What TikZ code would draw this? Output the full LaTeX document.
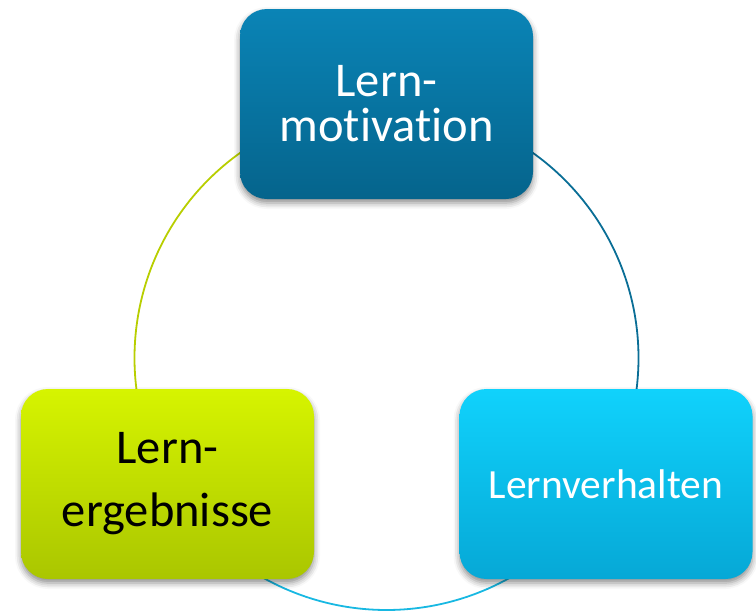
\documentclass[tikz,border=0pt]{standalone}
\usepackage{fontspec}
\setmainfont[Ligatures=NoCommon]{Carlito}
\usetikzlibrary{shadows.blur}

\definecolor{motivtop}{RGB}{10,132,182}
\definecolor{motivbot}{RGB}{5,100,140}
\definecolor{ergtop}{RGB}{214,244,0}
\definecolor{ergbot}{RGB}{170,198,0}
\definecolor{verhtop}{RGB}{16,210,252}
\definecolor{verhbot}{RGB}{6,168,214}
\definecolor{ergline}{RGB}{184,206,0}
\definecolor{motivline}{RGB}{10,110,150}
\definecolor{verhline}{RGB}{24,184,226}

\tikzset{
  stagebox/.style={rectangle, rounded corners=27pt, draw=none,
    minimum width=293pt, minimum height=190pt, inner sep=0pt, align=center,
    blur shadow={shadow xshift=0pt, shadow yshift=-4pt,
      shadow blur radius=6pt, shadow opacity=45}},
  cycleline/.style={line width=1.8pt},
}

\begin{document}
\begin{tikzpicture}[x=1pt,y=1pt]
  \useasboundingbox (0,0) rectangle (756,-611);
  \coordinate (c) at (386.5,-358);

  % connecting arcs of the cycle, drawn first so the boxes cover their ends
  \draw[cycleline, ergline]   (c) ++(124:252) arc[start angle=124, end angle=188, radius=252];
  \draw[cycleline, motivline] (c) ++(56:252)  arc[start angle=56,  end angle=-8,  radius=252];
  \draw[cycleline, verhline]  (c) ++(240:252) arc[start angle=240, end angle=300, radius=252];

  % the three stages
  \node[stagebox, top color=motivtop, bottom color=motivbot, text=white,
        font=\fontsize{48.5}{45}\selectfont]
    (motiv) at (386.5,-104) {Lern-\\motivation};
  \node[stagebox, top color=ergtop, bottom color=ergbot, text=black,
        font=\fontsize{48.5}{63}\selectfont]
    (erg) at (167.5,-484) {Lern-\\ergebnisse};
  \node[stagebox, top color=verhtop, bottom color=verhbot, text=white,
        font=\fontsize{41.5}{47}\selectfont]
    (verh) at (606,-484) {Lernverhalten};
\end{tikzpicture}
\end{document}
